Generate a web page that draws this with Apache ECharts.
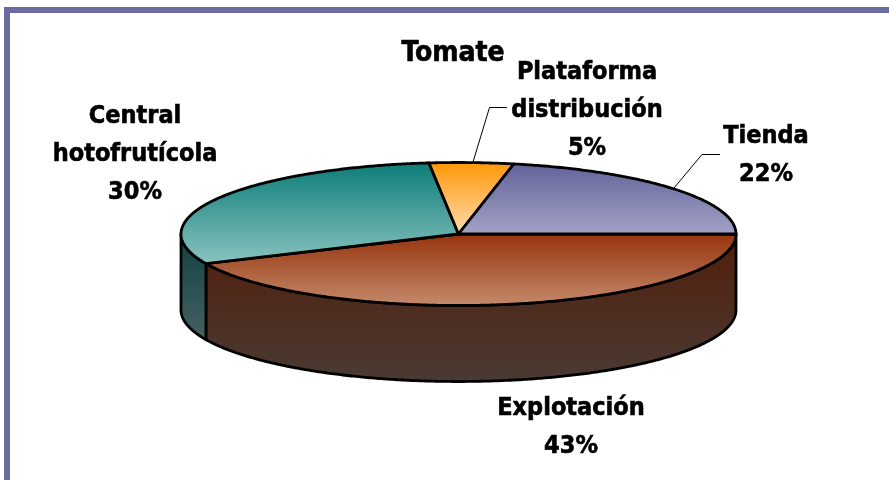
<!DOCTYPE html>
<html>
<head>
<meta charset="utf-8">
<style>html,body{margin:0;padding:0;background:#fff}#c{width:889px;height:480px}</style>
<script src="https://cdn.jsdelivr.net/npm/echarts@6/dist/echarts.min.js"></script>
</head>
<body>
<div id="c"></div>
<script>
var chartTitle = 'Tomate';
var categories = ['Explotación', 'Central\nhotofrutícola', 'Plataforma\ndistribución', 'Tienda'];
var values = [43.2, 30.1, 4.9, 21.8];

var CX = 458.5, CY = 234, RX = 277.5, RY = 71.5, DEPTH = 76;
var FONT = 'bold 25px "DejaVu Sans Condensed","DejaVu Sans",sans-serif';
var LINE_H = 38;
var TOP_GRAD = [
  [234, '#97340d', 306, '#c48a6c'],
  [162, '#0c7c78', 265, '#8ac4c0'],
  [162, '#ff9706', 234, '#ffdcae'],
  [163, '#62629a', 234, '#a2a2c6']
];
var SIDE_GRAD = [
  [240, '#511f0c', 380, '#4a3a32'],
  [243, '#164444', 340, '#456163'],
  null, null
];
var LABEL_POS = [[571, 408], [135, 116], [587, 72], [766, 136]];
var LEADERS = [null, null, [[473, 162], [489.5, 107.5], [507, 107.5]], [[674, 188], [702, 154.5], [720, 154.5]]];

function pt(deg, dy) {
  var r = deg * Math.PI / 180;
  return [CX + RX * Math.cos(r), CY + RY * Math.sin(r) + (dy || 0)];
}
function arc(a0, a1, dy) {
  var pts = [], n = Math.max(2, Math.ceil(Math.abs(a1 - a0) * 2));
  for (var i = 0; i <= n; i++) pts.push(pt(a0 + (a1 - a0) * i / n, dy));
  return pts;
}
function grad(g) {
  return new echarts.graphic.LinearGradient(0, g[0], 0, g[2],
    [{offset: 0, color: g[1]}, {offset: 1, color: g[3]}], true);
}
var total = values.reduce(function (a, b) { return a + b; }, 0);

function renderItem(params, api) {
  var i = params.dataIndex, before = 0;
  for (var k = 0; k < i; k++) before += values[k];
  var a0 = before / total * 360, a1 = a0 + api.value(0) / total * 360;
  var children = [];
  var lineStyle = {stroke: '#000', lineWidth: 2.8, lineJoin: 'round'};

  if (SIDE_GRAD[i] && a0 < 180) {
    var e = Math.min(a1, 180);
    var sidePts = arc(a0, e, 0).concat(arc(e, a0, DEPTH));
    children.push({type: 'polygon', shape: {points: sidePts},
      style: Object.assign({fill: grad(SIDE_GRAD[i])}, lineStyle)});
  }
  var topPts = [[CX, CY]].concat(arc(a0, a1, 0));
  children.push({type: 'polygon', shape: {points: topPts},
    style: Object.assign({fill: grad(TOP_GRAD[i])}, lineStyle)});

  if (LEADERS[i]) {
    children.push({type: 'polyline', shape: {points: LEADERS[i]},
      style: {stroke: '#000', lineWidth: 1, fill: null}});
  }
  var lines = (categories[i] + '\n' + Math.round(api.value(0)) + '%').split('\n');
  lines.forEach(function (t, n) {
    children.push({type: 'text', z2: 50, style: {
      text: t, x: LABEL_POS[i][0], y: LABEL_POS[i][1] + n * LINE_H,
      align: 'center', verticalAlign: 'middle', font: FONT, fill: '#000',
      stroke: '#000', lineWidth: 0.6
    }});
  });
  return {type: 'group', children: children};
}

var chart = echarts.init(document.getElementById('c'), null, {renderer: 'canvas'});
chart.setOption({
  animation: false,
  backgroundColor: '#fff',
  title: {text: chartTitle, left: 448, top: 49, textAlign: 'center', textVerticalAlign: 'middle',
    textStyle: {fontFamily: '"DejaVu Sans Condensed","DejaVu Sans",sans-serif', fontWeight: 'bold', fontSize: 28, color: '#000',
      textBorderColor: '#000', textBorderWidth: 0.6}},
  graphic: [
    {type: 'rect', shape: {x: 4, y: 7, width: 885, height: 6}, style: {fill: '#6b6ba0'}, silent: true},
    {type: 'rect', shape: {x: 4, y: 7, width: 6, height: 473}, style: {fill: '#6b6ba0'}, silent: true}
  ],
  series: [{
    type: 'custom',
    coordinateSystem: 'none',
    renderItem: renderItem,
    silent: true,
    data: categories.map(function (c, i) { return {name: c, value: values[i]}; })
  }]
});
</script>
</body>
</html>
